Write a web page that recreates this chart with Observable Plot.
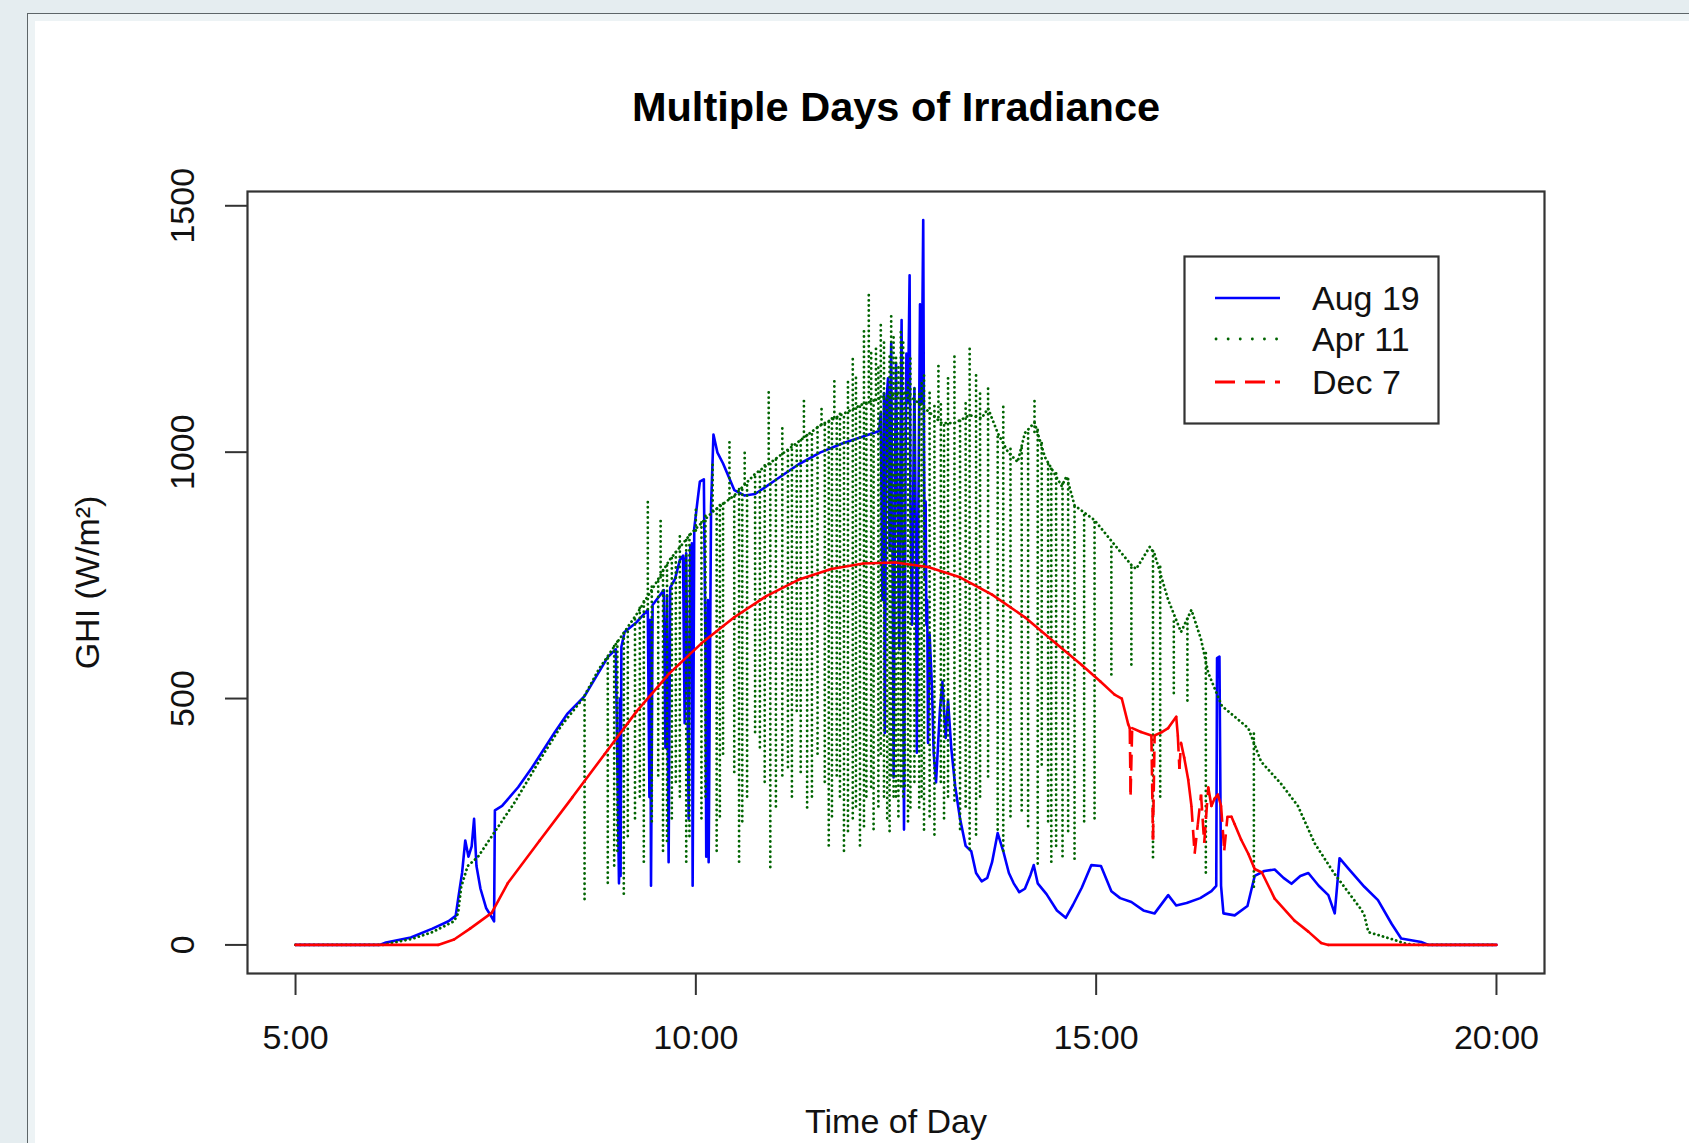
<!DOCTYPE html>
<html>
<head>
<meta charset="utf-8">
<script src="https://cdn.jsdelivr.net/npm/d3@7"></script>
<script src="https://cdn.jsdelivr.net/npm/@observablehq/plot@0.6"></script>
<style>
  html, body { margin: 0; padding: 0; overflow: hidden; }
  body { width: 1689px; height: 1143px; background: #e5edf0; position: relative;
         font-family: "Liberation Sans", Arial, Helvetica, sans-serif; }
  #frame { position: absolute; left: 27px; top: 13px; width: 1720px; height: 1200px;
           border: 1.5px solid #5d6568; background: #edf3f5; }
  #panel { position: absolute; left: 35px; top: 21px; width: 1720px; height: 1200px; background: #ffffff; }
  #chart { position: absolute; left: 0; top: 0; }
  #legend { position: absolute; left: 1183px; top: 255px; }
</style>
</head>
<body>
<div id="frame"></div>
<div id="panel"></div>
<div id="chart"></div>
<svg id="legend" width="258" height="171" xmlns="http://www.w3.org/2000/svg"
     font-family="Liberation Sans, Arial, Helvetica, sans-serif" font-size="34">
  <rect x="1.5" y="1.5" width="254" height="167" fill="#ffffff" stroke="#333333" stroke-width="2.2"/>
  <line x1="32" y1="43" x2="97" y2="43" stroke="#0000ff" stroke-width="2.6"/>
  <line x1="33" y1="84" x2="97" y2="84" stroke="#006400" stroke-width="2.8" stroke-dasharray="0.1,12" stroke-linecap="round"/>
  <line x1="32" y1="127" x2="97" y2="127" stroke="#ff0000" stroke-width="2.8" stroke-dasharray="20,10"/>
  <text x="129" y="55" fill="#111">Aug 19</text>
  <text x="129" y="96" fill="#111">Apr 11</text>
  <text x="129" y="139" fill="#111">Dec 7</text>
</svg>
<script>
// ---------- data (hour of day, GHI W/m²) ----------
const xTicks = [5, 10, 15, 20];
const xTickLabels = ["5:00", "10:00", "15:00", "20:00"];
const yTicks = [0, 500, 1000, 1500];

const aug19 = [
[5.00,0],[6.05,0],[6.13,5],[6.44,15],[6.71,33],[6.91,48],[7.00,59],[7.04,103],[7.08,146],[7.12,212],[7.16,179],
[7.20,200],[7.23,256],[7.26,160],[7.31,114],[7.38,75],[7.44,59],[7.48,48],[7.49,273],[7.58,282],[7.78,320],
[7.95,359],[8.24,432],[8.40,470],[8.61,505],[8.90,584],[9.00,600],[9.04,125],[9.05,500],[9.06,140],[9.07,605],
[9.11,635],[9.26,655],[9.40,680],[9.42,300],[9.43,660],[9.44,120],[9.46,690],[9.60,720],[9.62,400],[9.64,710],
[9.66,168],[9.68,725],[9.74,743],[9.80,781],[9.84,790],[9.86,450],[9.87,780],[9.88,795],[9.91,256],[9.93,810],
[9.94,600],[9.95,815],[9.96,120],[9.98,845],[10.02,900],[10.05,940],[10.10,945],[10.12,600],[10.13,179],
[10.15,700],[10.16,168],[10.19,890],[10.22,1036],[10.27,999],[10.34,977],[10.48,923],[10.61,912],[10.74,915],
[11.01,945],[11.28,975],[11.55,999],[11.82,1017],[12.09,1032],[12.29,1043],[12.31,1080],[12.33,700],[12.35,1120],
[12.36,430],[12.38,1100],[12.40,1150],[12.42,800],[12.44,1221],[12.46,700],[12.47,340],[12.49,1000],[12.50,1180],
[12.52,900],[12.54,600],[12.56,1100],[12.57,1268],[12.58,900],[12.60,234],[12.62,1000],[12.63,1200],[12.65,1100],
[12.67,1359],[12.68,900],[12.70,650],[12.72,1000],[12.73,1130],[12.75,800],[12.76,390],[12.78,900],[12.80,1300],
[12.82,1100],[12.84,1471],[12.85,1000],[12.86,740],[12.87,900],[12.88,650],[12.89,700],[12.90,410],[12.92,630],
[12.95,520],[12.97,390],[13.00,330],[13.05,480],[13.08,534],[13.12,420],[13.15,496],[13.19,400],[13.24,321],
[13.30,256],[13.37,201],[13.44,190],[13.50,146],[13.57,129],[13.64,136],[13.70,168],[13.77,227],[13.84,190],
[13.91,146],[13.97,125],[14.04,107],[14.11,114],[14.18,142],[14.22,162],[14.27,125],[14.38,103],[14.51,70],
[14.62,55],[14.71,81],[14.82,116],[14.94,162],[15.06,160],[15.19,109],[15.30,95],[15.44,87],[15.59,70],
[15.73,64],[15.90,101],[16.00,80],[16.13,85],[16.30,95],[16.44,109],[16.50,120],[16.51,582],[16.54,585],
[16.56,120],[16.59,64],[16.73,60],[16.89,79],[16.98,140],[17.10,150],[17.23,153],[17.34,136],[17.44,124],
[17.55,140],[17.65,146],[17.78,120],[17.90,101],[17.98,64],[18.04,176],[18.14,157],[18.35,118],[18.52,91],
[18.69,43],[18.81,13],[19.06,6],[19.15,0],[20.00,0]
];

// Apr 11: smooth upper trace
const apr11 = [
[5.00,0],[6.10,0],[6.20,4],[6.45,12],[6.71,26],[6.98,48],[7.03,64],[7.07,118],[7.15,160],[7.28,179],[7.49,230],
[7.74,290],[8.05,375],[8.32,445],[8.59,500],[8.79,560],[9.00,610],[9.26,671],[9.47,726],[9.67,781],[9.94,835],
[10.21,879],[10.48,912],[10.74,956],[11.01,988],[11.28,1021],[11.55,1054],[11.82,1076],[12.09,1098],[12.36,1113],
[12.63,1120],[12.86,1089],[13.07,1059],[13.23,1059],[13.42,1075],[13.57,1069],[13.65,1089],[13.77,1039],
[13.90,1000],[14.02,980],[14.11,1039],[14.23,1060],[14.36,990],[14.57,931],[14.63,951],[14.73,892],[14.98,862],
[15.21,816],[15.44,771],[15.50,763],[15.67,808],[15.73,793],[15.90,700],[16.06,635],[16.19,680],[16.31,620],
[16.40,552],[16.57,485],[16.90,440],[17.06,372],[17.31,327],[17.52,282],[17.73,206],[17.97,146],[18.31,72],
[18.35,60],[18.40,26],[18.73,10],[18.85,3],[19.00,0],[20.00,0]
];

// Apr 11: cloud spikes [hour, low, high]
const apr11Spikes = [
[8.61,92,505],[8.90,125,590],[8.98,160,615],[9.02,190,615],[9.10,103,632],[9.15,220,640],[9.24,256,668],
[9.30,300,690],[9.35,168,700],[9.40,680,901],[9.45,250,730],[9.53,343,745],[9.56,745,868],[9.59,190,760],
[9.64,210,775],[9.70,256,785],[9.75,330,800],[9.80,300,835],[9.88,168,823],[9.92,220,835],[10.00,840,890],
[10.07,256,860],[10.12,300,870],[10.21,880,977],[10.26,190,890],[10.30,260,895],[10.34,387,900],[10.42,905,1021],
[10.48,350,912],[10.54,168,925],[10.58,250,930],[10.61,935,999],[10.64,300,940],[10.74,431,956],[10.80,400,965],
[10.86,330,975],[10.91,975,1126],[10.93,157,978],[11.00,280,990],[11.08,343,1054],[11.15,360,1010],
[11.20,300,1015],[11.26,474,1019],[11.31,350,1025],[11.35,1030,1109],[11.39,278,1035],[11.45,300,1045],
[11.52,387,1050],[11.57,1055,1087],[11.61,330,1060],[11.66,201,1065],[11.70,260,1070],[11.73,1070,1152],
[11.76,343,1072],[11.80,300,1080],[11.85,190,1080],[11.90,230,1150],[11.96,256,1196],[12.00,280,1150],
[12.05,201,1095],[12.10,240,1250],[12.13,300,1100],[12.16,1100,1323],[12.19,320,1200],[12.22,234,1105],
[12.25,1105,1218],[12.28,280,1180],[12.31,387,1262],[12.35,300,1230],[12.39,256,1115],[12.42,230,1200],
[12.44,343,1284],[12.47,300,1240],[12.50,300,1200],[12.53,260,1180],[12.56,321,1251],[12.59,300,1230],
[12.61,322,1120],[12.65,250,1150],[12.68,278,1196],[12.73,330,1130],[12.79,278,1118],[12.82,300,1140],
[12.85,233,1163],[12.92,260,1120],[12.98,223,1100],[13.03,1070,1174],[13.06,330,1100],[13.10,256,1060],
[13.15,300,1150],[13.23,292,1196],[13.30,234,1065],[13.37,280,1100],[13.42,194,1217],[13.50,223,1163],
[13.55,300,1120],[13.65,341,1130],[13.77,233,1039],[13.84,190,1098],[13.93,260,1010],[14.07,272,1010],
[14.15,240,1040],[14.23,1040,1108],[14.27,164,1050],[14.32,365,1020],[14.40,250,980],[14.44,168,965],
[14.50,200,960],[14.58,179,935],[14.65,230,945],[14.73,174,892],[14.85,250,880],[14.98,256,862],
[15.19,548,816],[15.44,568,771],[15.71,177,805],[15.80,300,775],[15.97,510,655],[16.14,495,668],
[16.37,146,600],[16.97,117,430]
];

const dec7 = [
[5.00,0],[6.78,0],[6.98,11],[7.18,33],[7.45,65],[7.65,125],[8.05,212],[8.46,300],[8.86,387],[9.26,474],
[9.67,551],[10.07,612],[10.48,665],[10.88,708],[11.28,741],[11.69,763],[12.09,774],[12.49,776],[12.90,767],
[13.30,746],[13.70,711],[14.11,665],[14.51,610],[14.82,568],[15.05,535],[15.23,508],[15.32,500],[15.40,448],
[15.42,440],[15.43,305],[15.45,440],[15.56,432],[15.69,425],[15.71,214],[15.73,425],[15.82,432],[15.90,440],
[16.00,463],[16.02,425],[16.04,357],[16.06,410],[16.10,380],[16.15,335],[16.19,282],[16.23,185],[16.27,245],
[16.31,305],[16.35,207],[16.40,320],[16.44,282],[16.48,297],[16.52,305],[16.56,282],[16.60,192],[16.64,260],
[16.69,260],[16.73,245],[16.81,214],[16.90,185],[16.98,154],[17.07,147],[17.23,94],[17.48,49],[17.65,27],
[17.81,4],[17.90,0],[20.00,0]
];

// ---------- chart ----------
const FONT = "Liberation Sans, Arial, Helvetica, sans-serif";
const redPairs = d3.pairs(dec7);
// fast jumps (cloud edges) show the dash pattern; the slow daily curve looks solid
const steep = p => Math.abs(p[1][1] - p[0][1]) >= 40 &&
                   Math.abs(p[1][1] - p[0][1]) / Math.max(1e-6, p[1][0] - p[0][0]) > 1500;
const linkOpts = {x1: p => p[0][0], y1: p => p[0][1], x2: p => p[1][0], y2: p => p[1][1], stroke: "#ff0000", strokeWidth: 2.6};
const green = {stroke: "#006400", strokeWidth: 2.8, strokeLinecap: "round"};

const chart = Plot.plot({
  width: 1689, height: 1143,
  marginLeft: 247, marginRight: 145, marginTop: 191, marginBottom: 170,
  x: {domain: [4.4, 20.6], axis: null},
  y: {domain: [-58, 1529], axis: null},
  style: {background: "transparent", fontFamily: FONT, color: "#111", overflow: "visible"},
  marks: [
    Plot.line(aug19, {x: d => d[0], y: d => d[1], stroke: "#0000ff", strokeWidth: 2.6, strokeLinejoin: "round"}),
    Plot.line(apr11, {x: d => d[0], y: d => d[1], ...green, strokeDasharray: "0.1,4.5"}),
    Plot.ruleX(apr11Spikes, {x: d => d[0], y1: d => d[1], y2: d => d[2], ...green, strokeDasharray: "0.1,5"}),
    Plot.link(redPairs.filter(p => !steep(p)), {...linkOpts, strokeLinecap: "round", strokeLinejoin: "round"}),
    Plot.link(redPairs.filter(steep), {...linkOpts, strokeDasharray: "16,8"}),
    Plot.frame({stroke: "#333", strokeWidth: 2.2}),
    Plot.axisX(xTicks, {tickSize: 22, tickFormat: () => "", label: null, stroke: "#333", strokeWidth: 2}),
    Plot.axisY(yTicks, {tickSize: 22, tickFormat: () => "", label: null, stroke: "#333", strokeWidth: 2}),
    Plot.text(xTicks, {x: d => d, frameAnchor: "bottom", dy: 65, text: (d, i) => xTickLabels[i],
                       fontSize: 34, lineAnchor: "middle", textAnchor: "middle", fill: "#111"}),
    Plot.text(yTicks, {y: d => d, frameAnchor: "left", dx: -64, rotate: -90, text: d => String(d),
                       fontSize: 34, lineAnchor: "middle", textAnchor: "middle", fill: "#111"}),
    Plot.text(["Time of Day"], {frameAnchor: "bottom", dy: 149, text: d => d, fontSize: 34,
                                lineAnchor: "middle", textAnchor: "middle", fill: "#111"}),
    Plot.text(["GHI (W/m²)"], {frameAnchor: "left", dx: -159, rotate: -90, text: d => d, fontSize: 34,
                               lineAnchor: "middle", textAnchor: "middle", fill: "#111"}),
    Plot.text(["Multiple Days of Irradiance"], {frameAnchor: "top", dy: -84, text: d => d, fontSize: 41.5,
                                                fontWeight: "bold", lineAnchor: "middle", textAnchor: "middle", fill: "#000"})
  ]
});
document.getElementById("chart").appendChild(chart);
</script>
</body>
</html>
